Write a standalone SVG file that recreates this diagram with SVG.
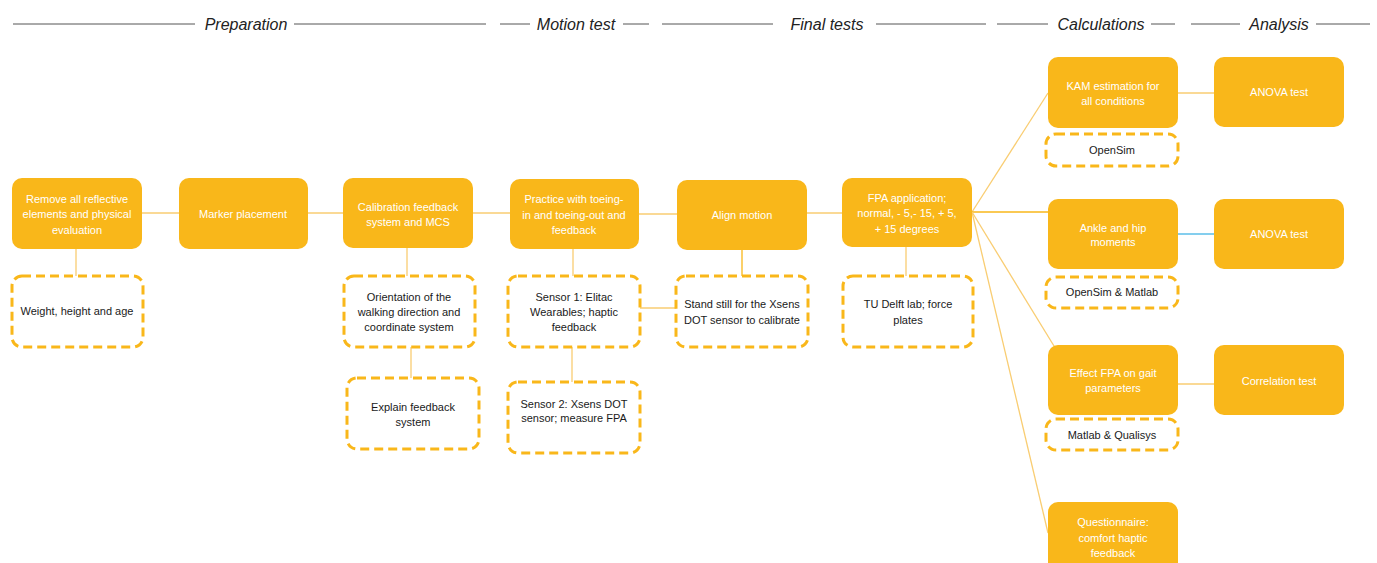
<svg xmlns="http://www.w3.org/2000/svg" width="1377" height="563" viewBox="0 0 1377 563">
<style>
.hdr{font-family:"Liberation Sans",Arial,sans-serif;font-size:16px;font-style:italic;fill:#222;text-anchor:middle}
.hl{stroke:#555;stroke-width:1}
.box{fill:#F9B71A}
.dash{fill:#fff;stroke:#F9B71A;stroke-width:3;stroke-dasharray:9 5}
.wt{font-family:"Liberation Sans",Arial,sans-serif;font-size:11px;fill:#fff;text-anchor:middle}
.bt{font-family:"Liberation Sans",Arial,sans-serif;font-size:11px;fill:#1a1a1a;text-anchor:middle}
.c{stroke:#F9CD72;stroke-width:1.3;fill:none}
.cb{stroke:#5BBEE8;stroke-width:1.3;fill:none}
</style>
<rect width="1377" height="563" fill="#fff"/>
<g id="headers">
<line class="hl" x1="13" y1="24" x2="195" y2="24"/>
<text class="hdr" x="246" y="30">Preparation</text>
<line class="hl" x1="294" y1="24" x2="486" y2="24"/>
<line class="hl" x1="500" y1="24" x2="530" y2="24"/>
<text class="hdr" x="576" y="30">Motion test</text>
<line class="hl" x1="623" y1="24" x2="649" y2="24"/>
<line class="hl" x1="662" y1="24" x2="773" y2="24"/>
<text class="hdr" x="827" y="30">Final tests</text>
<line class="hl" x1="876" y1="24" x2="986" y2="24"/>
<line class="hl" x1="997" y1="24" x2="1048" y2="24"/>
<text class="hdr" x="1101" y="30">Calculations</text>
<line class="hl" x1="1151" y1="24" x2="1175" y2="24"/>
<line class="hl" x1="1191" y1="24" x2="1240" y2="24"/>
<text class="hdr" x="1279" y="30">Analysis</text>
<line class="hl" x1="1316" y1="24" x2="1370" y2="24"/>
</g>
<g id="connectors">
<line class="c" x1="142" y1="213" x2="179" y2="213"/>
<line class="c" x1="308" y1="213" x2="343" y2="213"/>
<line class="c" x1="473" y1="213" x2="510" y2="213"/>
<line class="c" x1="639" y1="214" x2="677" y2="214"/>
<line class="c" x1="807" y1="213" x2="842" y2="213"/>
<line class="c" x1="76" y1="249" x2="76" y2="276"/>
<line class="c" x1="407" y1="248" x2="407" y2="276"/>
<line class="c" x1="411" y1="347" x2="411" y2="378"/>
<line class="c" x1="573" y1="249" x2="573" y2="276"/>
<line class="c" x1="572" y1="347" x2="572" y2="382"/>
<line class="c" x1="640" y1="308" x2="676" y2="308"/>
<line class="c" x1="742" y1="250" x2="742" y2="276" style="stroke:#F9B71A"/>
<line class="c" x1="906" y1="247" x2="906" y2="276"/>
<line class="c" x1="972" y1="212" x2="1048" y2="93"/>
<line class="c" x1="972" y1="212" x2="1048" y2="212" style="stroke:#F9B71A"/>
<line class="c" x1="972" y1="212" x2="1054" y2="346"/>
<line class="c" x1="972" y1="212" x2="1048" y2="533"/>
<line class="c" x1="1178" y1="93" x2="1214" y2="93"/>
<line class="cb" x1="1178" y1="234" x2="1214" y2="234"/>
<line class="c" x1="1178" y1="384" x2="1214" y2="384"/>
</g>
<g id="n-remove"><rect class="box" x="12" y="178" width="130" height="71" rx="10"/>
<text class="wt" x="77" y="203">Remove all reflective</text><text class="wt" x="77" y="218">elements and physical</text><text class="wt" x="77" y="234">evaluation</text></g>
<g id="n-marker"><rect class="box" x="179" y="178" width="129" height="71" rx="10"/>
<text class="wt" x="243" y="218">Marker placement</text></g>
<g id="n-calib"><rect class="box" x="343" y="178" width="130" height="70" rx="10"/>
<text class="wt" x="408" y="211">Calibration feedback</text><text class="wt" x="408" y="226">system and MCS</text></g>
<g id="n-practice"><rect class="box" x="510" y="179" width="129" height="70" rx="10"/>
<text class="wt" x="574" y="203">Practice with toeing-</text><text class="wt" x="574" y="219">in and toeing-out and</text><text class="wt" x="574" y="234">feedback</text></g>
<g id="n-align"><rect class="box" x="677" y="180" width="130" height="70" rx="10"/>
<text class="wt" x="742" y="219">Align motion</text></g>
<g id="n-fpa"><rect class="box" x="842" y="178" width="130" height="69" rx="10"/>
<text class="wt" x="907" y="202">FPA application;</text><text class="wt" x="907" y="217">normal, - 5,- 15, + 5,</text><text class="wt" x="907" y="233">+ 15 degrees</text></g>
<g id="n-weight"><rect class="dash" x="12" y="276" width="131" height="71" rx="10"/>
<text class="bt" x="77" y="315">Weight, height and age</text></g>
<g id="n-orient"><rect class="dash" x="344" y="276" width="131" height="71" rx="10"/>
<text class="bt" x="409" y="301">Orientation of the</text><text class="bt" x="409" y="316">walking direction and</text><text class="bt" x="409" y="331">coordinate system</text></g>
<g id="n-explain"><rect class="dash" x="347" y="378" width="132" height="71" rx="10"/>
<text class="bt" x="413" y="411">Explain feedback</text><text class="bt" x="413" y="426">system</text></g>
<g id="n-sensor1"><rect class="dash" x="508" y="276" width="132" height="71" rx="10"/>
<text class="bt" x="574" y="301">Sensor 1: Elitac</text><text class="bt" x="574" y="316">Wearables; haptic</text><text class="bt" x="574" y="331">feedback</text></g>
<g id="n-sensor2"><rect class="dash" x="508" y="382" width="132" height="71" rx="10"/>
<text class="bt" x="574" y="408">Sensor 2: Xsens DOT</text><text class="bt" x="574" y="422">sensor; measure FPA</text></g>
<g id="n-stand"><rect class="dash" x="676" y="276" width="132" height="71" rx="10"/>
<text class="bt" x="742" y="308">Stand still for the Xsens</text><text class="bt" x="742" y="324">DOT sensor to calibrate</text></g>
<g id="n-tudelft"><rect class="dash" x="843" y="276" width="130" height="71" rx="10"/>
<text class="bt" x="908" y="308">TU Delft lab; force</text><text class="bt" x="908" y="324">plates</text></g>
<g id="n-kam"><rect class="box" x="1048" y="57" width="130" height="71" rx="10"/>
<text class="wt" x="1113" y="90">KAM estimation for</text><text class="wt" x="1113" y="105">all conditions</text></g>
<g id="n-opensim"><rect class="dash" x="1046" y="134" width="132" height="32" rx="10"/>
<text class="bt" x="1112" y="154">OpenSim</text></g>
<g id="n-anova1"><rect class="box" x="1214" y="57" width="130" height="70" rx="10"/>
<text class="wt" x="1279" y="96">ANOVA test</text></g>
<g id="n-ankle"><rect class="box" x="1048" y="199" width="130" height="70" rx="10"/>
<text class="wt" x="1113" y="232">Ankle and hip</text><text class="wt" x="1113" y="246">moments</text></g>
<g id="n-osmatlab"><rect class="dash" x="1046" y="277" width="132" height="31" rx="10"/>
<text class="bt" x="1112" y="296">OpenSim &amp; Matlab</text></g>
<g id="n-anova2"><rect class="box" x="1214" y="199" width="130" height="70" rx="10"/>
<text class="wt" x="1279" y="238">ANOVA test</text></g>
<g id="n-effect"><rect class="box" x="1048" y="345" width="130" height="70" rx="10"/>
<text class="wt" x="1113" y="377">Effect FPA on gait</text><text class="wt" x="1113" y="392">parameters</text></g>
<g id="n-matqual"><rect class="dash" x="1046" y="419" width="132" height="31" rx="10"/>
<text class="bt" x="1112" y="439">Matlab &amp; Qualisys</text></g>
<g id="n-corr"><rect class="box" x="1214" y="345" width="130" height="70" rx="10"/>
<text class="wt" x="1279" y="385">Correlation test</text></g>
<g id="n-quest"><rect class="box" x="1048" y="502" width="130" height="72" rx="10"/>
<text class="wt" x="1113" y="526">Questionnaire:</text><text class="wt" x="1113" y="542">comfort haptic</text><text class="wt" x="1113" y="557">feedback</text></g>
</svg>
